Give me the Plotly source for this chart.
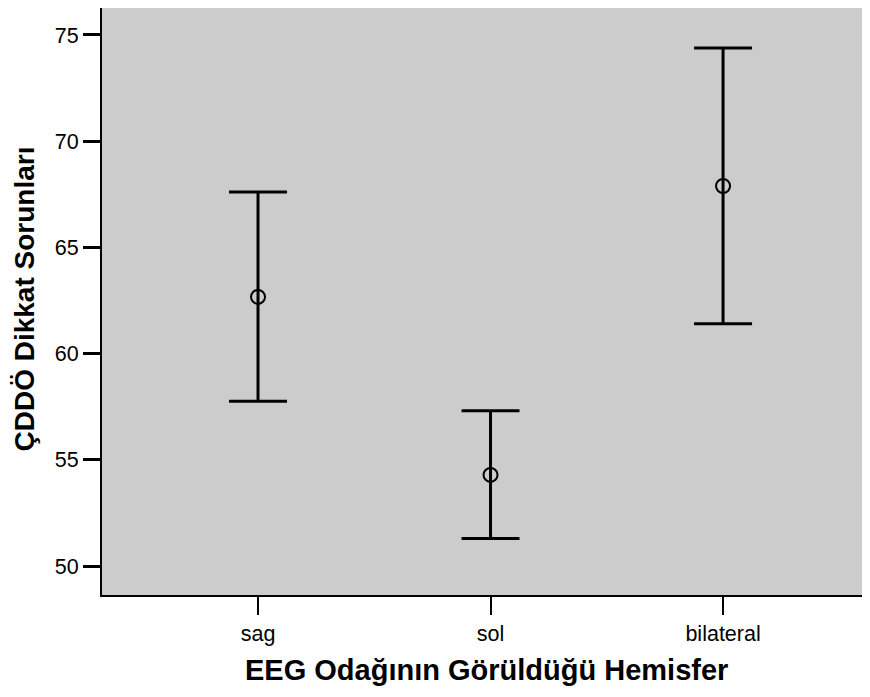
import plotly.graph_objects as go

categories = ["sag", "sol", "bilateral"]
means = [62.67, 54.29, 67.89]
upper = [67.61, 57.31, 74.39]
lower = [57.76, 51.30, 61.40]

err_plus = [u - m for u, m in zip(upper, means)]
err_minus = [m - l for m, l in zip(means, lower)]

fig = go.Figure()
fig.add_trace(go.Scatter(
    x=list(range(len(categories))),
    y=means,
    mode="markers",
    marker=dict(symbol="circle-open", size=14, color="black", line=dict(width=2, color="black")),
    error_y=dict(type="data", symmetric=False, array=err_plus, arrayminus=err_minus,
                 color="black", thickness=3, width=29),
    showlegend=False,
))

font_family = "Liberation Sans, Arial, sans-serif"

fig.update_layout(
    width=862, height=681,
    margin=dict(l=94, r=0, t=0, b=94, autoexpand=False),
    paper_bgcolor="white",
    plot_bgcolor="#cccccc",
    font=dict(family=font_family, color="black"),
    xaxis=dict(
        range=[-0.671, 2.632],
        tickmode="array",
        tickvals=list(range(len(categories))),
        ticktext=categories,
        ticks="outside", ticklen=18, tickwidth=2, tickcolor="black",
        showline=True, linecolor="black", linewidth=2, mirror=True,
        showgrid=False, zeroline=False, automargin=False,
        tickfont=dict(size=21.5, family=font_family),
    ),
    yaxis=dict(
        range=[48.635, 76.27],
        tickvals=[50, 55, 60, 65, 70, 75],
        ticks="outside", ticklen=17, tickwidth=3, tickcolor="black",
        showline=True, linecolor="black", linewidth=2, mirror=False,
        showgrid=False, zeroline=False, automargin=False,
        tickfont=dict(size=21.5, family=font_family),
    ),
    annotations=[
        dict(
            text="<b>ÇDDÖ Dikkat Sorunları</b>",
            xref="paper", yref="paper", x=0, y=0.5,
            xanchor="center", yanchor="middle", xshift=-78, yshift=2,
            textangle=-90, showarrow=False,
            font=dict(size=28, family=font_family, color="black"),
        ),
        dict(
            text="<b>EEG Odağının Görüldüğü Hemisfer</b>",
            xref="paper", yref="paper", x=0.5, y=0,
            xanchor="center", yanchor="bottom", yshift=-93,
            showarrow=False,
            font=dict(size=29, family=font_family, color="black"),
        ),
    ],
)

fig.write_html("out.html")
